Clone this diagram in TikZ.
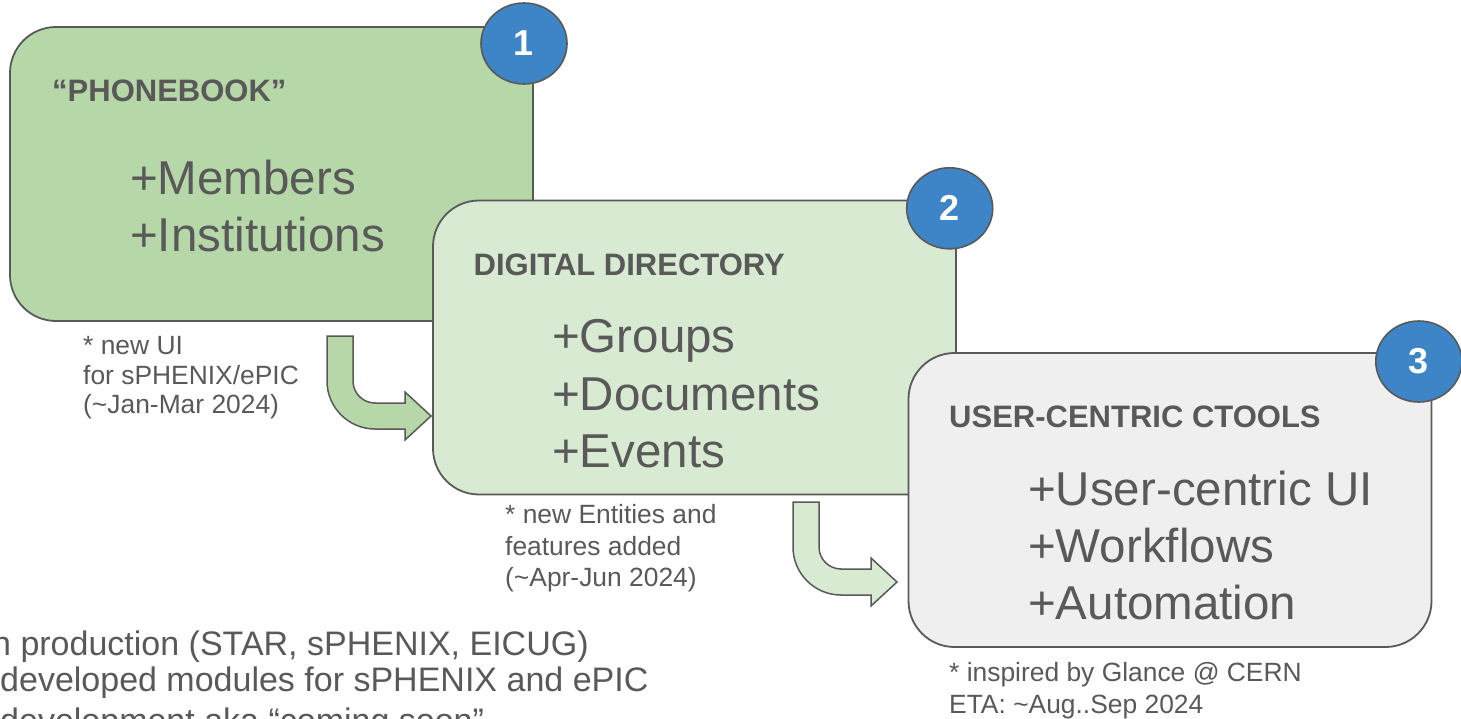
\documentclass[tikz,border=0pt]{standalone}
\usepackage{fontspec}
\setmainfont{Liberation Sans}
\usetikzlibrary{shapes.geometric}
\definecolor{greenA}{HTML}{B6D7A8}
\definecolor{greenB}{HTML}{D9EAD3}
\definecolor{greyC}{HTML}{EFEFEF}
\definecolor{edge}{HTML}{595959}
\definecolor{ink}{HTML}{595959}
\definecolor{badgeblue}{HTML}{3D85C6}
\tikzset{
  stage/.style={draw=edge, line width=1.8pt, rounded corners=46pt, inner sep=0pt, outer sep=0pt,
    anchor=north west, minimum width=523pt, minimum height=294pt},
  badge/.style={ellipse, draw=edge, fill=badgeblue, line width=1.6pt, minimum width=86pt,
    minimum height=81pt, inner sep=0pt, text=white, font=\fontsize{36}{40}\selectfont\bfseries},
  title/.style={anchor=base west, inner sep=0pt, text=ink, font=\fontsize{31}{36}\selectfont\bfseries},
  big/.style={anchor=base west, inner sep=0pt, text=ink, font=\fontsize{47.5}{57}\selectfont},
  note/.style={anchor=base west, inner sep=0pt, text=ink, font=\fontsize{26.4}{30}\selectfont},
  bullet/.style={anchor=base west, inner sep=0pt, text=ink, font=\fontsize{34}{37}\selectfont},
  pics/bentarrow/.style={code={
    \path[pic actions] (0,0) -- (26,0) -- (26,45) .. controls (26,57.15) and (35.85,67) .. (48,67)
      -- (78,67) -- (78,56) -- (104,80) -- (78,104) -- (78,93) -- (48,93)
      .. controls (21.5,93) and (0,71.5) .. (0,45) -- cycle;
  }}
}
\begin{document}
\begin{tikzpicture}[x=1pt,y=-1pt]
\useasboundingbox (0,0) rectangle (1461,719);
\clip (0,0) rectangle (1461,719);
% stage 1
\node[stage, fill=greenA] (b1) at (10,27) {};
\node[title] (h1) at (52,101.5) {“PHONEBOOK”};
\node[big] (t1a) at (130,195) {+Members};
\node[big] (t1b) at (130,251.7) {+Institutions};
\node[badge] (c1) at (524,43.5) {1};
% stage 2
\node[stage, fill=greenB] (b2) at (433,200.5) {};
\node[title] (h2) at (473.5,276) {DIGITAL DIRECTORY};
\node[big] (t2a) at (552,352.7) {+Groups};
\node[big] (t2b) at (552,410) {+Documents};
\node[big] (t2c) at (552,467.3) {+Events};
\node[badge] (c2) at (949.7,208.3) {2};
% stage 3
\node[stage, fill=greyC] (b3) at (908.5,353) {};
\node[title] (h3) at (949,427.3) {USER-CENTRIC CTOOLS};
\node[big] (t3a) at (1028,505) {+User-centric UI};
\node[big] (t3b) at (1028,562.3) {+Workflows};
\node[big] (t3c) at (1028,619.3) {+Automation};
\node[badge] (c3) at (1418.8,361.5) {3};
% arrows
\pic[draw=edge, fill=greenA, line width=1.5pt] (arr1) at (327,336) {bentarrow};
\pic[draw=edge, fill=greenB, line width=1.5pt] (arr2) at (793,502) {bentarrow};
% notes
\node[note] (n1a) at (83,354.3) {* new UI};
\node[note] (n1b) at (83,384) {for sPHENIX/ePIC};
\node[note] (n1c) at (83,413.3) {(\textasciitilde Jan-Mar 2024)};
\node[note] (n2a) at (505,523.3) {* new Entities and};
\node[note] (n2b) at (505,555) {features added};
\node[note] (n2c) at (505,586) {(\textasciitilde Apr-Jun 2024)};
\node[note] (n3a) at (949,681.7) {* inspired by Glance @ CERN};
\node[note] (n3b) at (949,713.3) {ETA: \textasciitilde Aug..Sep 2024};
% bottom-left list (cut by the frame, as in the reference)
\node[bullet] (l1) at (-8,655) {n production (STAR, sPHENIX, EICUG)};
\node[bullet] (l2) at (0,691.7) {developed modules for sPHENIX and ePIC};
\node[bullet] (l3) at (0,732) {development aka “coming soon”};
\end{tikzpicture}
\end{document}
